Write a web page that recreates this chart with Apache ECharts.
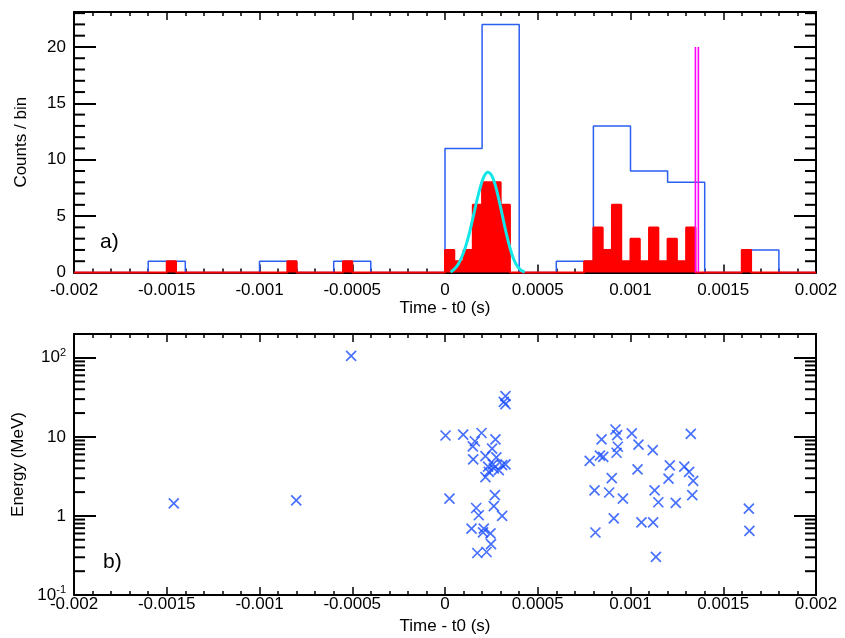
<!DOCTYPE html>
<html><head><meta charset="utf-8">
<script src="https://cdn.jsdelivr.net/npm/echarts@6/dist/echarts.min.js"></script>
<style>html,body{margin:0;padding:0;background:#fff}#c{width:845px;height:638px}</style>
</head><body><div id="c"></div>
<script>
// ---- tick labels ----
const xTickValues = [-0.002, -0.0015, -0.001, -0.0005, 0, 0.0005, 0.001, 0.0015, 0.002];
const xTickLabels = ['-0.002', '-0.0015', '-0.001', '-0.0005', '0', '0.0005', '0.001', '0.0015', '0.002'];
const countTickValues = [0, 5, 10, 15, 20];
const countTickLabels = ['0', '5', '10', '15', '20'];
const countMinorTicks = [1, 2, 3, 4, 6, 7, 8, 9, 11, 12, 13, 14, 16, 17, 18, 19, 21, 22, 23];
const energyTickExponents = [-1, 0, 1, 2];
const energyTickLabels = ['10{sup|-1}', '1', '10', '10{sup|2}'];
const energyMinorTicks = [0.2, 0.3, 0.4, 0.5, 0.6, 0.7, 0.8, 0.9, 2, 3, 4, 5, 6, 7, 8, 9, 20, 30, 40, 50, 60, 70, 80, 90];

// ---- panel a: coarse histogram (blue outline) ----
const blueBinWidth = 0.0002;
const blueBinLeft = [-0.0016, -0.001, -0.0006, 0, 0.0002, 0.0006, 0.0008, 0.001, 0.0012, 0.0016];
const blueCounts = [1, 1, 1, 11, 22, 1, 13, 9, 8, 2];

// ---- panel a: fine histogram (red filled) ----
const redBinWidth = 0.00005;
const redBinLeft = [-0.0015, -0.00085, -0.00055, 0, 0.00005, 0.0001, 0.00015, 0.0002, 0.00025, 0.0003,
  0.00075, 0.0008, 0.00085, 0.0009, 0.00095, 0.001, 0.00105, 0.0011, 0.00115, 0.0012, 0.00125, 0.0013, 0.0016];
const redCounts = [1, 1, 1, 2, 1, 2, 6, 8, 8, 6, 1, 4, 2, 6, 1, 3, 1, 4, 1, 3, 1, 4, 2];

// ---- panel a: fitted pulse (cyan) ----
const fitTime = [0.00003, 0.00005, 0.00007, 0.00009, 0.00011, 0.00013, 0.00015, 0.00017, 0.00019, 0.00021, 0.00023,
  0.00025, 0.00027, 0.00029, 0.00031, 0.00033, 0.00035, 0.00037, 0.00039, 0.00041, 0.00043];
const fitCounts = [0.05, 0.3, 0.7, 1.35, 2.25, 3.4, 4.8, 6.25, 7.55, 8.5, 8.9,
  8.65, 7.8, 6.5, 5.0, 3.5, 2.2, 1.2, 0.55, 0.2, 0.03];

// ---- panel a: magenta markers ----
const markerTimes = [0.00135, 0.001366];
const markerHeights = [20, 20];

// ---- panel b: events ----
const eventTime = [-0.001462, -0.000802, -0.000506,
  0.000003, 0.000024, 0.000098, 0.000143, 0.00015, 0.000152, 0.000161, 0.000168, 0.000174, 0.000182, 0.000197,
  0.000205, 0.000209, 0.000218, 0.000218, 0.000224, 0.000232, 0.000236, 0.000245, 0.000248,
  0.000254, 0.000258, 0.000263, 0.000263, 0.000269, 0.000272, 0.000277, 0.00029,
  0.000308, 0.000308, 0.000317, 0.000326, 0.000326, 0.000326,
  0.00078, 0.000806, 0.000811, 0.000835, 0.000844, 0.000853, 0.000885,
  0.000899, 0.00091, 0.000919, 0.000925, 0.000928, 0.000932, 0.000959,
  0.001007, 0.001038, 0.001043, 0.001059,
  0.00112, 0.001122, 0.00113, 0.001137, 0.00115,
  0.001205, 0.001212, 0.001244, 0.00129,
  0.001316, 0.001325, 0.001333, 0.001338,
  0.001638, 0.001641];
const eventEnergy = [1.44, 1.57, 106,
  10.4, 1.66, 10.7, 0.69, 7.6, 5.2, 8.8, 1.26, 0.34, 1.02, 11.2,
  0.62, 0.69, 5.7, 3.1, 0.35, 4.2, 3.6, 0.6, 0.44,
  7.1, 4.5, 4.0, 1.33, 1.83, 9.3, 5.5, 3.8,
  4.4, 1.0, 27.7, 32.7, 25.9, 4.5,
  4.97, 2.1, 0.617, 5.8, 9.27, 5.6, 1.98,
  3.0, 0.93, 12.4, 6.3, 10.5, 7.5, 1.66,
  11.1, 3.87, 8.0, 0.83,
  6.8, 0.83, 2.1, 0.303, 1.49,
  2.97, 4.35, 1.46, 4.2,
  3.6, 10.9, 1.83, 2.77,
  1.24, 0.646];

// ---- helpers ----
const XMIN = -0.002, XMAX = 0.002;
function stepOutline(lefts, counts, w) {
  const pts = [[XMIN, 0]];
  const n = lefts.length;
  for (let i = 0; i < n; i++) {
    const l = lefts[i], r = l + w, h = counts[i];
    const adjPrev = i > 0 && Math.abs(lefts[i - 1] + w - l) < 1e-9;
    const adjNext = i < n - 1 && Math.abs(lefts[i + 1] - r) < 1e-9;
    if (!adjPrev) pts.push([l, 0]);
    pts.push([l, h]);
    pts.push([r, h]);
    if (!adjNext) pts.push([r, 0]);
  }
  pts.push([XMAX, 0]);
  return pts;
}
const FONT = '"Liberation Sans", Arial, Helvetica, sans-serif';
function xLabel(v) {
  const i = xTickValues.findIndex(t => Math.abs(t - v) < 1e-9);
  return i >= 0 ? xTickLabels[i] : '';
}
function countLabel(v) {
  const i = countTickValues.findIndex(t => Math.abs(t - v) < 1e-9);
  return i >= 0 ? countTickLabels[i] : '';
}
function energyLabel(v) {
  const e = Math.log10(v);
  const i = energyTickExponents.findIndex(t => Math.abs(t - e) < 1e-6);
  return i >= 0 ? energyTickLabels[i] : '';
}
function xAxisCfg(grid, pos, withLabels, margin, name, nameGap) {
  return {
    type: 'value', gridIndex: grid, position: pos, min: XMIN, max: XMAX, interval: 0.0005,
    axisLine: { show: true, onZero: false, lineStyle: { color: '#000', width: 2 } },
    axisTick: { show: true, inside: true, length: 8, lineStyle: { color: '#000', width: 1.5 } },
    minorTick: { show: true, splitNumber: 5, length: 4, lineStyle: { color: '#000', width: 1.5 } },
    splitLine: { show: false }, minorSplitLine: { show: false },
    axisLabel: { show: withLabels, formatter: xLabel, margin: margin, color: '#000', fontSize: 17, fontFamily: FONT,
      showMinLabel: true, showMaxLabel: true },
    name: withLabels ? name : '', nameLocation: 'middle', nameGap: nameGap,
    nameTextStyle: { color: '#000', fontSize: 17, fontFamily: FONT }
  };
}
function yLinCfg(grid, pos, withLabels) {
  return {
    type: 'value', gridIndex: grid, position: pos, min: 0, max: 23.1, interval: 5,
    axisLine: { show: true, onZero: false, lineStyle: { color: '#000', width: 2 } },
    axisTick: { show: true, inside: true, length: 22, lineStyle: { color: '#000', width: 2 } },
    minorTick: { show: false }, splitLine: { show: false },
    axisLabel: { show: withLabels, formatter: countLabel, margin: 8, color: '#000', fontSize: 17, fontFamily: FONT, showMaxLabel: false },
    name: withLabels ? 'Counts / bin' : '', nameLocation: 'middle', nameGap: 44,
    nameTextStyle: { color: '#000', fontSize: 17, fontFamily: FONT }
  };
}
function yLogCfg(grid, pos, withLabels) {
  return {
    type: 'log', logBase: 10, gridIndex: grid, position: pos, min: 0.1, max: 200,
    axisLine: { show: true, onZero: false, lineStyle: { color: '#000', width: 2 } },
    axisTick: { show: true, inside: true, length: 22, lineStyle: { color: '#000', width: 2 } },
    minorTick: { show: false }, splitLine: { show: false },
    axisLabel: { show: withLabels, formatter: energyLabel, margin: 8, color: '#000', fontSize: 17, fontFamily: FONT, showMaxLabel: false,
      rich: { sup: { fontSize: 11, fontFamily: FONT, color: '#000', verticalAlign: 'top', padding: [0, 0, 10, 0] } } },
    name: withLabels ? 'Energy (MeV)' : '', nameLocation: 'middle', nameGap: 47,
    nameTextStyle: { color: '#000', fontSize: 17, fontFamily: FONT }
  };
}
function minorTickSeries(xi, yi, values, len) {
  return {
    type: 'custom', xAxisIndex: xi, yAxisIndex: yi, silent: true, clip: false, z: 5,
    data: values.map(v => [XMIN, v]),
    encode: { x: 0, y: 1 },
    renderItem: function (params, api) {
      const v = api.value(1);
      const pL = api.coord([XMIN, v]);
      const pR = api.coord([XMAX, v]);
      return {
        type: 'group', children: [
          { type: 'line', shape: { x1: pL[0], y1: pL[1], x2: pL[0] + len, y2: pL[1] }, style: { stroke: '#000', lineWidth: 2 } },
          { type: 'line', shape: { x1: pR[0] - len, y1: pR[1], x2: pR[0], y2: pR[1] }, style: { stroke: '#000', lineWidth: 2 } }
        ]
      };
    }
  };
}

const chart = echarts.init(document.getElementById('c'), null, { renderer: 'canvas' });
const markerSeries = markerTimes.map((t, i) => ({
  type: 'line', xAxisIndex: 0, yAxisIndex: 0, data: [[t, 0], [t, markerHeights[i]]],
  showSymbol: false, silent: true, z: 8, lineStyle: { color: '#ff00ff', width: 1.6 }
}));

chart.setOption({
  animation: false,
  backgroundColor: '#fff',
  grid: [
    { left: 74, right: 29, top: 12, height: 260.5 },
    { left: 74, right: 29, top: 334, height: 261 }
  ],
  xAxis: [
    xAxisCfg(0, 'bottom', true, 9, 'Time - t0 (s)', 22),
    xAxisCfg(0, 'top', false, 8, '', 0),
    xAxisCfg(1, 'bottom', true, 1, 'Time - t0 (s)', 23),
    xAxisCfg(1, 'top', false, 8, '', 0)
  ],
  yAxis: [
    yLinCfg(0, 'left', true),
    yLinCfg(0, 'right', false),
    yLogCfg(1, 'left', true),
    yLogCfg(1, 'right', false)
  ],
  graphic: [
    { type: 'text', left: 100, top: 232, style: { text: 'a)', fontSize: 21, fontFamily: FONT, fill: '#000' } },
    { type: 'text', left: 103, top: 552, style: { text: 'b)', fontSize: 21, fontFamily: FONT, fill: '#000' } }
  ],
  series: [
    {
      type: 'line', xAxisIndex: 0, yAxisIndex: 0, data: stepOutline(blueBinLeft, blueCounts, blueBinWidth),
      showSymbol: false, silent: true, z: 3, clip: false, lineStyle: { color: '#2a5ff2', width: 1.5 }
    },
    {
      type: 'line', xAxisIndex: 0, yAxisIndex: 0, data: stepOutline(redBinLeft, redCounts, redBinWidth),
      showSymbol: false, silent: true, z: 4, clip: false,
      lineStyle: { color: '#ff0000', width: 2 }, areaStyle: { color: '#ff0000', opacity: 1 }
    },
    {
      type: 'line', xAxisIndex: 0, yAxisIndex: 0, data: fitTime.map((t, i) => [t, fitCounts[i]]),
      showSymbol: false, silent: true, z: 6, smooth: 0.4, lineStyle: { color: '#12e6e6', width: 3 }
    },
    ...markerSeries,
    minorTickSeries(0, 0, countMinorTicks, 11),
    {
      type: 'scatter', xAxisIndex: 2, yAxisIndex: 2, data: eventTime.map((t, i) => [t, eventEnergy[i]]),
      symbol: 'path://M0,0L10,10M10,0L0,10', symbolSize: 10, silent: true, z: 6,
      itemStyle: { color: 'rgba(0,0,0,0)', borderColor: '#1a4dff', borderWidth: 1.7 }
    },
    minorTickSeries(2, 2, energyMinorTicks, 11)
  ]
});
</script>
</body></html>
